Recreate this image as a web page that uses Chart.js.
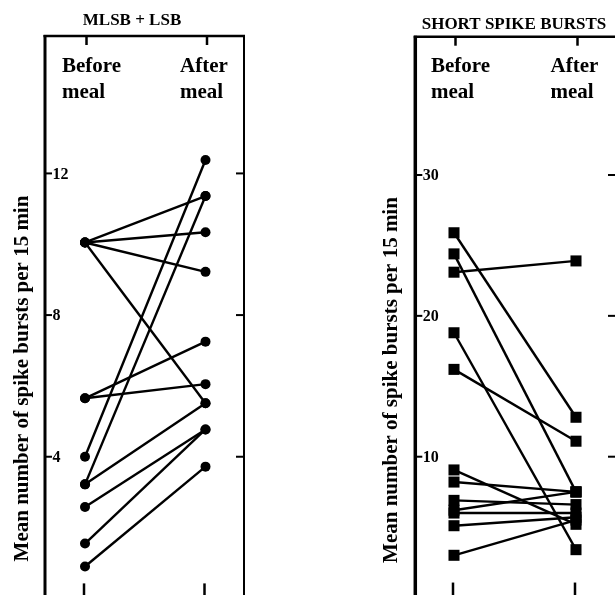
<!DOCTYPE html>
<html><head><meta charset="utf-8">
<script src="https://cdn.jsdelivr.net/npm/chart.js@4"></script>
<style>
html,body{margin:0;padding:0;background:#fff;overflow:hidden;width:615px;height:595px;}
#c1{position:absolute;left:0;top:0;}
#c2{position:absolute;left:300px;top:0;}
</style></head><body>
<canvas id="c1" width="300" height="610"></canvas>
<canvas id="c2" width="330" height="610"></canvas>
<script>
// ---- data ----
const conditionLabels = [['Before', 'meal'], ['After', 'meal']];
const mlsbTitle = 'MLSB + LSB';
const mlsbBefore = [10.05, 10.05, 10.05, 10.05, 5.65, 5.65, 4.0, 3.22, 3.22, 2.58, 1.55, 0.9];
const mlsbAfter  = [11.36, 10.34, 9.22, 5.51, 7.25, 6.05, 12.38, 11.36, 5.51, 4.77, 4.77, 3.72];
const mlsbTicks  = [4, 8, 12];
const ssbTitle = 'SHORT SPIKE BURSTS';
const ssbBefore = [25.9, 24.4, 23.1, 18.8, 16.2, 9.06, 8.2, 6.9, 6.2, 6.0, 5.1, 3.0];
const ssbAfter  = [12.8, 7.5, 23.9, 3.4, 11.1, 5.2, 7.5, 6.6, 7.5, 6.0, 5.7, 5.5];
const ssbTicks  = [10, 20, 30];
const yAxisTitle = 'Mean number of spike bursts per 15 min';

const FONT = '"Liberation Serif", "Times New Roman", serif';

function makeDatasets(before, after, style, radius) {
  return before.map((b, i) => ({
    data: [{x: 0, y: b}, {x: 1, y: after[i]}],
    borderColor: '#000',
    backgroundColor: '#000',
    borderWidth: 2.4,
    pointStyle: style,
    pointRadius: radius,
    pointHoverRadius: radius,
    pointBorderWidth: 0,
    pointBackgroundColor: '#000',
    tension: 0,
    clip: false
  }));
}

function framePlugin(o) {
  return {
    id: 'frame',
    beforeDatasetsDraw(chart) {
      const ctx = chart.ctx, ca = chart.chartArea;
      const xs = chart.scales.x, ys = chart.scales.y;
      ctx.save();
      ctx.strokeStyle = '#000';
      ctx.lineCap = 'butt';
      ctx.lineWidth = o.leftW;
      ctx.beginPath(); ctx.moveTo(ca.left, ca.top - 1); ctx.lineTo(ca.left, ca.bottom + 5); ctx.stroke();
      ctx.lineWidth = 2.5;
      ctx.beginPath(); ctx.moveTo(ca.left - 1.5, ca.top); ctx.lineTo(ca.right + 1, ca.top); ctx.stroke();
      ctx.lineWidth = 2;
      ctx.beginPath(); ctx.moveTo(ca.right, ca.top); ctx.lineTo(ca.right, ca.bottom + 5); ctx.stroke();
      ctx.lineWidth = 2.5;
      [0, 1].forEach(v => {
        const px = xs.getPixelForValue(v) + 1.5;
        ctx.beginPath(); ctx.moveTo(px, ca.top); ctx.lineTo(px, ca.top + 9); ctx.stroke();
        const pb = xs.getPixelForValue(v) - 1;
        ctx.beginPath(); ctx.moveTo(pb, ca.bottom); ctx.lineTo(pb, ca.bottom - 15); ctx.stroke();
      });
      ctx.lineWidth = 2;
      o.ticks.forEach(v => {
        const py = ys.getPixelForValue(v);
        ctx.beginPath(); ctx.moveTo(ca.left, py); ctx.lineTo(ca.left + 7, py); ctx.stroke();
        ctx.beginPath(); ctx.moveTo(ca.right, py); ctx.lineTo(ca.right - 8, py); ctx.stroke();
      });
      ctx.restore();
    },
    afterDraw(chart) {
      const ctx = chart.ctx, ca = chart.chartArea;
      const xs = chart.scales.x, ys = chart.scales.y;
      ctx.save();
      ctx.fillStyle = '#000';
      ctx.font = 'bold 17px ' + FONT;
      ctx.textAlign = 'center'; ctx.textBaseline = 'alphabetic';
      ctx.fillText(o.title, o.titleX, o.titleY);
      ctx.font = 'bold 21px ' + FONT;
      ctx.textAlign = 'left';
      conditionLabels.forEach((lines, i) => {
        const lx = xs.getPixelForValue(i) - (i === 0 ? 23 : 25.5);
        lines.forEach((t, j) => ctx.fillText(t, lx, o.condY + j * 25.5));
      });
      ctx.font = 'bold 16px ' + FONT;
      ctx.textBaseline = 'middle';
      o.ticks.forEach(v => ctx.fillText(String(v), ca.left + 7.5, ys.getPixelForValue(v) + 1));
      ctx.font = 'bold 21px ' + FONT;
      ctx.textAlign = 'center'; ctx.textBaseline = 'alphabetic';
      ctx.translate(o.yTitleX, o.yTitleY);
      ctx.rotate(-Math.PI / 2);
      ctx.fillText(yAxisTitle, 0, 0);
      ctx.restore();
    }
  };
}

function makeChart(id, before, after, style, radius, scaleOpt, pad, o) {
  return new Chart(document.getElementById(id), {
    type: 'line',
    data: { datasets: makeDatasets(before, after, style, radius) },
    options: {
      responsive: false,
      animation: false,
      devicePixelRatio: 1,
      layout: { padding: pad },
      plugins: { legend: { display: false }, tooltip: { enabled: false }, title: { display: false } },
      scales: {
        x: { type: 'linear', display: false, min: scaleOpt.xmin, max: scaleOpt.xmax },
        y: { type: 'linear', display: false, min: 0, max: scaleOpt.ymax }
      }
    },
    plugins: [framePlugin(o)]
  });
}

makeChart('c1', mlsbBefore, mlsbAfter, 'circle', 5,
  { xmin: -0.332, xmax: 1.3195, ymax: 15.88 },
  { left: 45, right: 56, top: 36, bottom: 11.6 },
  { title: mlsbTitle, titleX: 132, titleY: 25, ticks: mlsbTicks, condY: 72, yTitleX: 28, yTitleY: 378.5, leftW: 3 });

makeChart('c2', ssbBefore, ssbAfter, 'rect', 7.8,
  { xmin: -0.3172, xmax: 1.3279, ymax: 39.82 },
  { left: 115.3, right: 14, top: 36.7, bottom: 12.45 },
  { title: ssbTitle, titleX: 214, titleY: 29.3, ticks: ssbTicks, condY: 72, yTitleX: 97, yTitleY: 380, leftW: 3.5 });
</script>
</body></html>
